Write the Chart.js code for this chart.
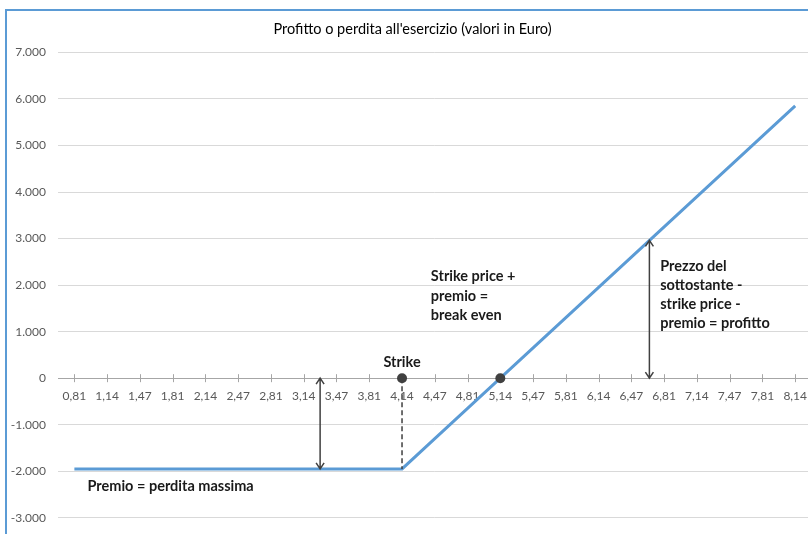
<!DOCTYPE html>
<html>
<head>
<meta charset="utf-8">
<script src="https://cdn.jsdelivr.net/npm/chart.js@4.4.1/dist/chart.umd.min.js"></script>
<style>
    html, body { margin: 0; padding: 0; background: #fff; overflow: hidden; width: 808px; height: 534px; }
    #wrap {
        position: absolute; left: 5px; top: 9px;
        width: 811px; height: 526px;
        border-top: 2px solid #5b9bd5; border-left: 2px solid #5b9bd5;
    }
    #payoffChart { display: block; width: 811px; height: 526px; }
</style>
</head>
<body>
<div id="wrap"><canvas id="payoffChart" width="811" height="526"></canvas></div>
<script>
// prezzi del sottostante (etichette asse x)
const prices = ["0,81", "1,14", "1,47", "1,81", "2,14", "2,47", "2,81", "3,14", "3,47", "3,81", "4,14",
    "4,47", "4,81", "5,14", "5,47", "5,81", "6,14", "6,47", "6,81", "7,14", "7,47", "7,81", "8,14"];
// profitto / perdita all'esercizio
const profit = [-1950, -1950, -1950, -1950, -1950, -1950, -1950, -1950, -1950, -1950, -1950,
    -1300, -650, 0, 650, 1300, 1950, 2600, 3250, 3900, 4550, 5200, 5850];
const yMin = -3000;
const yMax = 7000;
const yStep = 1000;

// punti notevoli (indice categoria, valore)
const strikeIdx = 10;
const breakEvenIdx = 13;
const premio = -1950;
const profitArrow = { idx: 17.55, top: 2960 };
const premioArrow = { idx: 7.5 };

// testi (ancorati in coordinate dati)
const notes = [
    { idx: 10, y: 340, align: "center", lines: ["Strike"] },
    { idx: 10.88, y: 2180, align: "left", lines: ["Strike price +", "premio =", "break even"] },
    { idx: 17.88, y: 2410, align: "left", lines: ["Prezzo del", "sottostante -", "strike price -", "premio = profitto"] },
    { idx: 0.4, y: -2330, align: "left", lines: ["Premio = perdita massima"] },
];

function fmt(v) {
    return String(v).replace(/\B(?=(\d{3})+(?!\d))/g, ".");
}

function arrow(ctx, x, y1, y2) {
    const h = 6;
    ctx.beginPath();
    ctx.moveTo(x, y1);
    ctx.lineTo(x, y2);
    ctx.moveTo(x - 4, y1 + h);
    ctx.lineTo(x, y1);
    ctx.lineTo(x + 4, y1 + h);
    ctx.moveTo(x - 4, y2 - h);
    ctx.lineTo(x, y2);
    ctx.lineTo(x + 4, y2 - h);
    ctx.stroke();
}

const notesPlugin = {
    id: "notes",
    afterDatasetsDraw(chart) {
        const ctx = chart.ctx;
        const xs = chart.scales.x;
        const ys = chart.scales.y;
        const px = (i) => xs.getPixelForValue(0) + i * (xs.getPixelForValue(1) - xs.getPixelForValue(0));
        const y0 = ys.getPixelForValue(0);
        ctx.save();

        // tacche asse x
        ctx.strokeStyle = "#a6a6a6";
        ctx.lineWidth = 1;
        prices.forEach((p, i) => {
            const x = Math.round(px(i)) + 0.5;
            ctx.beginPath();
            ctx.moveTo(x, y0 - 4);
            ctx.lineTo(x, y0 + 4);
            ctx.stroke();
        });

        // tratteggio dallo strike al premio
        ctx.strokeStyle = "#404040";
        ctx.lineWidth = 1.5;
        ctx.setLineDash([5, 3]);
        ctx.beginPath();
        ctx.moveTo(px(strikeIdx), y0);
        ctx.lineTo(px(strikeIdx), ys.getPixelForValue(premio));
        ctx.stroke();
        ctx.setLineDash([]);

        // frecce
        arrow(ctx, px(premioArrow.idx), y0, ys.getPixelForValue(premio));
        arrow(ctx, px(profitArrow.idx), ys.getPixelForValue(profitArrow.top), y0);

        // punti strike e break even
        ctx.fillStyle = "#404040";
        [strikeIdx, breakEvenIdx].forEach((i) => {
            ctx.beginPath();
            ctx.arc(px(i), y0, 5, 0, Math.PI * 2);
            ctx.fill();
        });

        // testi
        ctx.fillStyle = "#1a1a1a";
        ctx.font = "bold 14.5px Lato";
        ctx.textBaseline = "middle";
        notes.forEach((n) => {
            ctx.textAlign = n.align;
            n.lines.forEach((t, k) => {
                ctx.fillText(t, px(n.idx), ys.getPixelForValue(n.y) + k * 19.2);
            });
        });
        ctx.restore();
    },
};

new Chart(document.getElementById("payoffChart"), {
    type: "line",
    data: {
        labels: prices,
        datasets: [
            {
                data: profit,
                borderColor: "#5b9bd5",
                borderWidth: 3,
                pointRadius: 0,
                tension: 0,
            },
        ],
    },
    options: {
        responsive: false,
        animation: false,
        devicePixelRatio: 1,
        layout: { padding: { left: 0, right: 0, top: 0, bottom: 8 } },
        plugins: {
            legend: { display: false },
            tooltip: { enabled: false },
            title: {
                display: true,
                text: "Profitto o perdita all'esercizio (valori in Euro)",
                color: "#000",
                font: { family: "Lato", size: 14.5, weight: "normal" },
                padding: { top: 10, bottom: 14 },
            },
        },
        scales: {
            x: {
                type: "category",
                offset: true,
                position: { y: 0 },
                grid: { display: true, drawOnChartArea: false, drawTicks: false, offset: false },
                border: { display: true, color: "#a6a6a6", width: 1 },
                ticks: {
                    color: "#595959",
                    font: { family: "Lato", size: 12 },
                    padding: 11,
                    maxRotation: 0,
                    autoSkip: false,
                },
            },
            y: {
                min: yMin,
                max: yMax,
                afterFit(scale) {
                    scale.width = 51;
                },
                grid: { color: "#d9d9d9", lineWidth: 1, drawTicks: false },
                border: { display: false },
                ticks: {
                    stepSize: yStep,
                    color: "#595959",
                    font: { family: "Lato", size: 12 },
                    padding: 12,
                    callback: (v) => fmt(v),
                },
            },
        },
    },
    plugins: [notesPlugin],
});
</script>
</body>
</html>
